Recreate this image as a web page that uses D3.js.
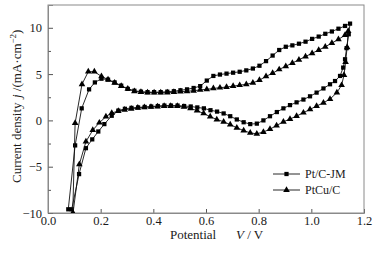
<!DOCTYPE html>
<html><head><meta charset="utf-8">
<script src="https://cdn.jsdelivr.net/npm/d3@7"></script>
<style>body{margin:0;background:#fff}svg{display:block}text{font-family:"Liberation Serif","Times New Roman",serif}</style>
</head><body><svg id="c" width="378" height="255"></svg>
<script>
// Data: potential (V) and current density j (mA·cm^-2), full CV loop
const ptcjmV = [0.077,0.103,0.128,0.156,0.178,0.203,0.228,0.253,0.278,0.303,0.328,0.353,0.378,0.403,0.428,0.453,0.478,0.503,0.528,0.553,0.578,0.603,0.628,0.653,0.678,0.703,0.728,0.753,0.778,0.803,0.828,0.853,0.878,0.903,0.928,0.953,0.978,1.003,1.028,1.053,1.078,1.103,1.128,1.147,
  1.142,1.134,1.128,1.121,1.109,1.09,1.071,1.046,1.02,0.995,0.97,0.944,0.919,0.894,0.869,0.843,0.818,0.793,0.768,0.743,0.717,0.692,0.667,0.642,0.617,0.592,0.567,0.542,0.517,0.492,0.467,0.442,0.417,0.392,0.367,0.342,0.317,0.292,0.267,0.242,0.214,0.191,0.168,0.144,0.118,0.09];
const ptcjmJ = [-9.6,-2.7,1.3,3.35,4.1,4.5,4.4,4.1,3.75,3.4,3.2,3.1,3.05,3.05,3.05,3.1,3.15,3.25,3.35,3.5,3.7,4.3,4.8,4.95,5.05,5.15,5.25,5.4,5.6,5.9,6.4,7.0,7.6,7.95,8.1,8.28,8.5,8.8,9.05,9.35,9.6,9.9,10.2,10.45,
  9.3,7.8,6.6,5.7,4.8,4.25,3.9,3.45,3.0,2.6,2.25,1.95,1.65,1.3,0.9,0.45,0.0,-0.35,-0.4,-0.2,0.1,0.45,0.75,0.95,1.1,1.3,1.4,1.5,1.55,1.6,1.6,1.6,1.55,1.5,1.45,1.4,1.35,1.25,1.05,0.5,-0.4,-1.2,-2.05,-3.0,-5.8,-9.6];
const ptcuV = [0.094,0.103,0.129,0.153,0.176,0.203,0.228,0.253,0.278,0.303,0.328,0.353,0.378,0.403,0.428,0.453,0.478,0.503,0.528,0.553,0.578,0.603,0.628,0.653,0.678,0.703,0.728,0.753,0.778,0.803,0.828,0.853,0.878,0.903,0.928,0.953,0.978,1.003,1.028,1.053,1.078,1.103,1.128,1.14,
  1.136,1.13,1.124,1.115,1.097,1.071,1.046,1.02,0.995,0.97,0.944,0.919,0.894,0.868,0.843,0.818,0.793,0.768,0.743,0.717,0.692,0.667,0.641,0.616,0.591,0.566,0.541,0.516,0.491,0.466,0.441,0.416,0.391,0.366,0.341,0.316,0.291,0.267,0.242,0.22,0.195,0.17,0.144,0.119,0.095];
const ptcuJ = [-10.0,-0.3,3.9,5.26,5.26,4.75,4.4,4.05,3.7,3.4,3.15,3.05,3.0,3.0,3.0,3.0,3.05,3.1,3.15,3.2,3.3,3.35,3.45,3.53,3.6,3.7,3.8,3.9,4.05,4.35,4.75,5.1,5.5,5.85,6.2,6.55,6.9,7.25,7.6,7.95,8.35,8.75,9.2,9.65,
  7.9,6.3,4.9,3.8,3.0,2.3,1.9,1.55,1.19,0.83,0.47,0.15,-0.15,-0.55,-0.95,-1.25,-1.45,-1.35,-1.1,-0.8,-0.45,-0.15,0.1,0.4,0.75,1.05,1.3,1.45,1.55,1.55,1.55,1.5,1.45,1.4,1.35,1.25,1.15,1.0,0.8,0.4,-0.25,-1.05,-2.3,-4.75,-10.0];
const seriesNames = ["Pt/C-JM","PtCu/C"];
const xTicks = [0.0,0.2,0.4,0.6,0.8,1.0,1.2];
const yTicks = [-10,-5,0,5,10];
const yMinor = [-7.5,-2.5,2.5,7.5];

const svg = d3.select("#c");
const L=48,R=364,T=5,B=213;
const x = d3.scaleLinear().domain([0,1.2]).range([L,R]);
const y = d3.scaleLinear().domain([-10,12.46]).range([B,T]);
const frame="#8a8a8a";
const ink="#1a1a1a";

svg.append("defs").append("clipPath").attr("id","cp").append("rect")
  .attr("x",L).attr("y",T).attr("width",R-L).attr("height",B-T);

// axes
svg.append("g").attr("transform",`translate(0,${B})`)
  .call(d3.axisBottom(x).tickValues(xTicks).tickSize(-4).tickPadding(3).tickFormat(d3.format(".1f")));
svg.append("g").attr("transform",`translate(${L},0)`)
  .call(d3.axisLeft(y).tickValues(yTicks).tickSize(-5).tickPadding(6).tickFormat(d=>d<0?"\u2212"+(-d):d));
svg.append("g").attr("transform",`translate(${L},0)`)
  .call(d3.axisLeft(y).tickValues(yMinor).tickSize(-3).tickFormat(""))
  .select(".domain").remove();
svg.selectAll(".domain").attr("stroke",frame);
svg.selectAll(".tick line").attr("stroke","#555");
svg.selectAll(".tick text").attr("font-size",12.5).attr("fill",ink)
  .attr("font-family","'Liberation Serif','Times New Roman',serif");
svg.append("rect").attr("x",L).attr("y",T).attr("width",R-L).attr("height",B-T)
  .attr("fill","none").attr("stroke",frame).attr("stroke-width",1);

// series
const sets = [
  {name:seriesNames[0], pts:ptcjmV.map((v,i)=>[v,ptcjmJ[i]]), sym:d3.symbolSquare, size:18},
  {name:seriesNames[1], pts:ptcuV.map((v,i)=>[v,ptcuJ[i]]), sym:d3.symbolTriangle, size:19}
];
const line = d3.line().x(d=>x(d[0])).y(d=>y(d[1]));
const g = svg.append("g").attr("clip-path","url(#cp)");
sets.forEach(s=>{
  g.append("path").attr("d",line(s.pts)).attr("fill","none").attr("stroke","#111").attr("stroke-width",0.9);
  g.selectAll(null).data(s.pts).enter().append("path")
    .attr("d",d3.symbol().type(s.sym).size(s.size))
    .attr("transform",d=>`translate(${x(d[0])},${y(d[1])})`).attr("fill","#000");
});

// legend
sets.forEach((s,i)=>{
  const ly = 174 + i*16;
  svg.append("line").attr("x1",273).attr("x2",300).attr("y1",ly).attr("y2",ly).attr("stroke","#111").attr("stroke-width",0.9);
  svg.append("path").attr("d",d3.symbol().type(s.sym).size(s.size)).attr("transform",`translate(286.5,${ly})`);
  svg.append("text").attr("x",305).attr("y",ly+4).attr("font-size",12).attr("fill",ink).text(s.name);
});

// axis titles
svg.append("text").attr("x",170).attr("y",239).attr("font-size",13).attr("fill",ink).text("Potential");
const xt2 = svg.append("text").attr("x",236).attr("y",239).attr("font-size",13).attr("fill",ink);
xt2.append("tspan").attr("font-style","italic").text("V");
xt2.append("tspan").text(" / V");

svg.append("text").attr("transform","translate(21,183) rotate(-90)").attr("font-size",13).attr("fill",ink).text("Current density");
const yt = svg.append("text").attr("transform","translate(21,98) rotate(-90)").attr("font-size",13).attr("fill",ink);
yt.append("tspan").attr("font-style","italic").text("j");
yt.append("tspan").text(" /(mA\u00b7cm");
yt.append("tspan").attr("font-size",9).attr("dy",-5).text("\u22122");
yt.append("tspan").attr("dy",5).text(")");
</script></body></html>
